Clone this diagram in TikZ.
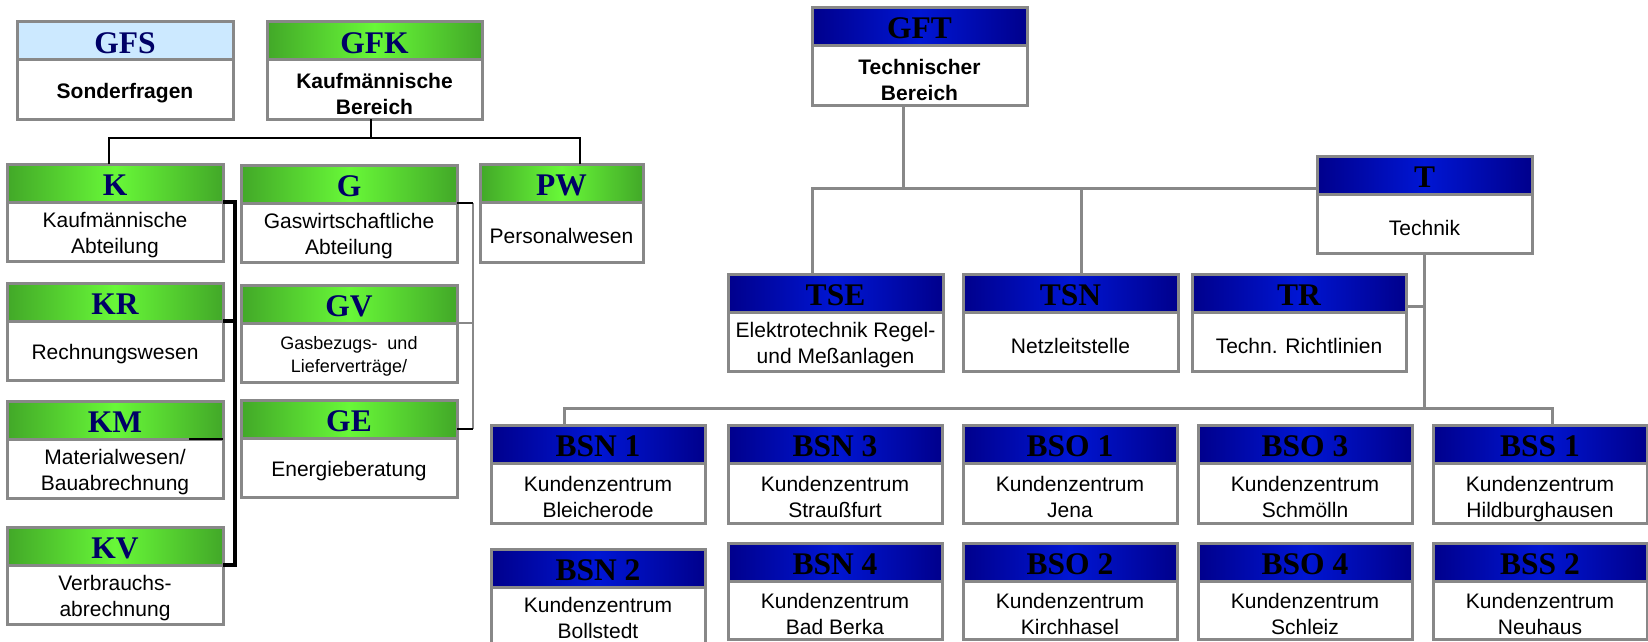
\documentclass[tikz,border=0pt]{standalone}
\usepackage{fontspec}
\setmainfont{Liberation Sans}
\newfontfamily\hdfont{Liberation Serif}
\definecolor{gedge}{RGB}{66,168,40}
\definecolor{gmid}{RGB}{104,248,56}
\definecolor{bedge}{RGB}{0,0,140}
\definecolor{bmid}{RGB}{0,22,212}
\definecolor{lblue}{RGB}{204,233,255}
\definecolor{navy}{RGB}{0,0,102}
\definecolor{bord}{RGB}{136,136,136}
\tikzset{
  box/.style={draw=bord, line width=3pt, inner sep=0pt, outer sep=0pt},
  hfont/.style={font=\hdfont\bfseries\fontsize{31.5}{31.5}\selectfont, text height=24pt, text depth=0pt},
  ghead/.style={box, hfont, left color=gedge, right color=gedge, middle color=gmid, text=navy},
  bhead/.style={box, hfont, left color=bedge, right color=bedge, middle color=bmid, text=black},
  lhead/.style={box, hfont, fill=lblue, text=navy},
  bodybox/.style={box, fill=white},
  body/.style={align=center, inner sep=0pt, font=\fontsize{21}{26}\selectfont},
  bodyb/.style={body, font=\bfseries\fontsize{21}{26}\selectfont},
  bodys/.style={body, font=\fontsize{18}{23}\selectfont},
  blk/.style={draw=black, line width=2.5pt},
  kline/.style={draw=black, line width=4pt},
  gline/.style={draw=bord, line width=2.5pt},
  tline/.style={draw=bord, line width=3pt},
}
\def\tshift{-4pt}
% name, x, top, width, textstyle, bodyheight, headstyle, title, body
\newcommand\obox[9]{%
  \node[#7, anchor=north west, minimum width=#4pt, minimum height=38pt] (#1) at (#2,#3) {#8};
  \node[bodybox, anchor=north, minimum width=#4pt, minimum height=#6pt] (#1b) at (#1.south) {};
  \node[#5] (#1t) at ([yshift=\tshift]#1b.center) {#9};}
\begin{document}
\begin{tikzpicture}[x=1pt,y=-1pt]
\useasboundingbox[fill=white] (0,0) rectangle (1648,642);
% left part
\obox{GFS}{17}{22}{216}{bodyb}{59}{lhead}{GFS}{Sonderfragen}
\obox{GFK}{267}{22}{215}{bodyb}{59}{ghead}{GFK}{Kaufmännische\\Bereich}
\obox{K}{7}{164}{216}{body}{59}{ghead}{K}{Kaufmännische\\Abteilung}
\obox{KR}{7}{283}{216}{body}{59}{ghead}{KR}{Rechnungswesen}
\obox{KM}{7}{401}{216}{body}{59}{ghead}{KM}{Materialwesen/\\Bauabrechnung}
\obox{KV}{7}{527}{216}{body}{59}{ghead}{KV}{Verbrauchs-\\abrechnung}
\obox{G}{241}{165}{216}{body}{59}{ghead}{G}{Gaswirtschaftliche\\Abteilung}
\obox{GV}{241}{285}{216}{bodys}{59}{ghead}{GV}{Gasbezugs-\ \ und\\Lieferverträge/}
\obox{GE}{241}{400}{216}{body}{59}{ghead}{GE}{Energieberatung}
\obox{PW}{480}{164}{163}{body}{60}{ghead}{PW}{Personalwesen}
% right part
\obox{GFT}{812}{8}{215}{bodyb}{59}{bhead}{GFT}{Technischer\\Bereich}
\obox{T}{1317}{156}{215}{body}{59}{bhead}{T}{Technik}
\obox{TSE}{728}{274}{215}{body}{59}{bhead}{TSE}{Elektrotechnik Regel-\\und Meßanlagen}
\obox{TSN}{963}{274}{215}{body}{59}{bhead}{TSN}{Netzleitstelle}
\obox{TR}{1192}{274}{214}{body}{59}{bhead}{TR}{Techn. Richtlinien}
\obox{BSN1}{491}{425}{214}{body}{60}{bhead}{BSN 1}{Kundenzentrum\\Bleicherode}
\obox{BSN3}{728}{425}{214}{body}{60}{bhead}{BSN 3}{Kundenzentrum\\Straußfurt}
\obox{BSO1}{963}{425}{214}{body}{60}{bhead}{BSO 1}{Kundenzentrum\\Jena}
\obox{BSO3}{1198}{425}{214}{body}{60}{bhead}{BSO 3}{Kundenzentrum\\Schmölln}
\obox{BSS1}{1433}{425}{214}{body}{60}{bhead}{BSS 1}{Kundenzentrum\\\raisebox{0pt}[\height][0pt]{Hildburghausen}}
\obox{BSN4}{728}{543}{214}{body}{58}{bhead}{BSN 4}{Kundenzentrum\\Bad Berka}
\obox{BSO2}{963}{543}{214}{body}{58}{bhead}{BSO 2}{Kundenzentrum\\Kirchhasel}
\obox{BSO4}{1198}{543}{214}{body}{58}{bhead}{BSO 4}{Kundenzentrum\\Schleiz}
\obox{BSS2}{1433}{543}{214}{body}{58}{bhead}{BSS 2}{Kundenzentrum\\Neuhaus}
\def\tshift{-0.5pt}
\obox{BSN2}{491}{549}{214}{body}{60}{bhead}{BSN 2}{Kundenzentrum\\Bollstedt}
% connectors, left part
\coordinate (kx) at (235,0);
\coordinate (gx) at (473,0);
\draw[blk] ([xshift=-3.5pt]GFKb.south) -- ++(0,19) coordinate (kbus);
\draw[blk] ([xshift=-6pt]K.north) |- (kbus) -| ([xshift=18.5pt]PW.north);
\draw[kline] (Kb.north east) -- (Kb.north east -| kx) -- (KVb.north east -| kx) -- (KVb.north east);
\draw[kline] (KRb.north east) -- (KRb.north east -| kx);
\draw[blk, line width=2pt] ([xshift=-34pt]KMb.north east) -- (KMb.north east);
\coordinate (gest) at ([yshift=9pt]GEb.north east);
\draw[gline] (Gb.north east -| gx) -- (gest -| gx);
\draw[gline] (GVb.north east) -- (GVb.north east -| gx);
\draw[blk] (Gb.north east) -- (Gb.north east -| gx);
\draw[blk] (gest) -- (gest -| gx);
% connectors, right part
\draw[tline] ([xshift=-16.5pt]GFTb.south) -- ++(0,83) coordinate (tbus);
\draw[tline] ([xshift=-23.5pt]TSE.north) |- (T.west |- tbus);
\coordinate (tsnt) at ([xshift=10.5pt]TSN.north);
\draw[tline] (tsnt) -- (tsnt |- tbus);
\coordinate (b1t) at ([xshift=-33.5pt]BSN1.north);
\coordinate (b9t) at ([xshift=12.5pt]BSS1.north);
\draw[tline] (b1t) -- ++(0,-17) coordinate (bbus) -| (b9t);
\draw[tline] (Tb.south) -- (Tb.south |- bbus);
\coordinate (trs) at ([yshift=-13pt]TR.east);
\draw[tline] (trs) -- (trs -| Tb.south);
\end{tikzpicture}
\end{document}
